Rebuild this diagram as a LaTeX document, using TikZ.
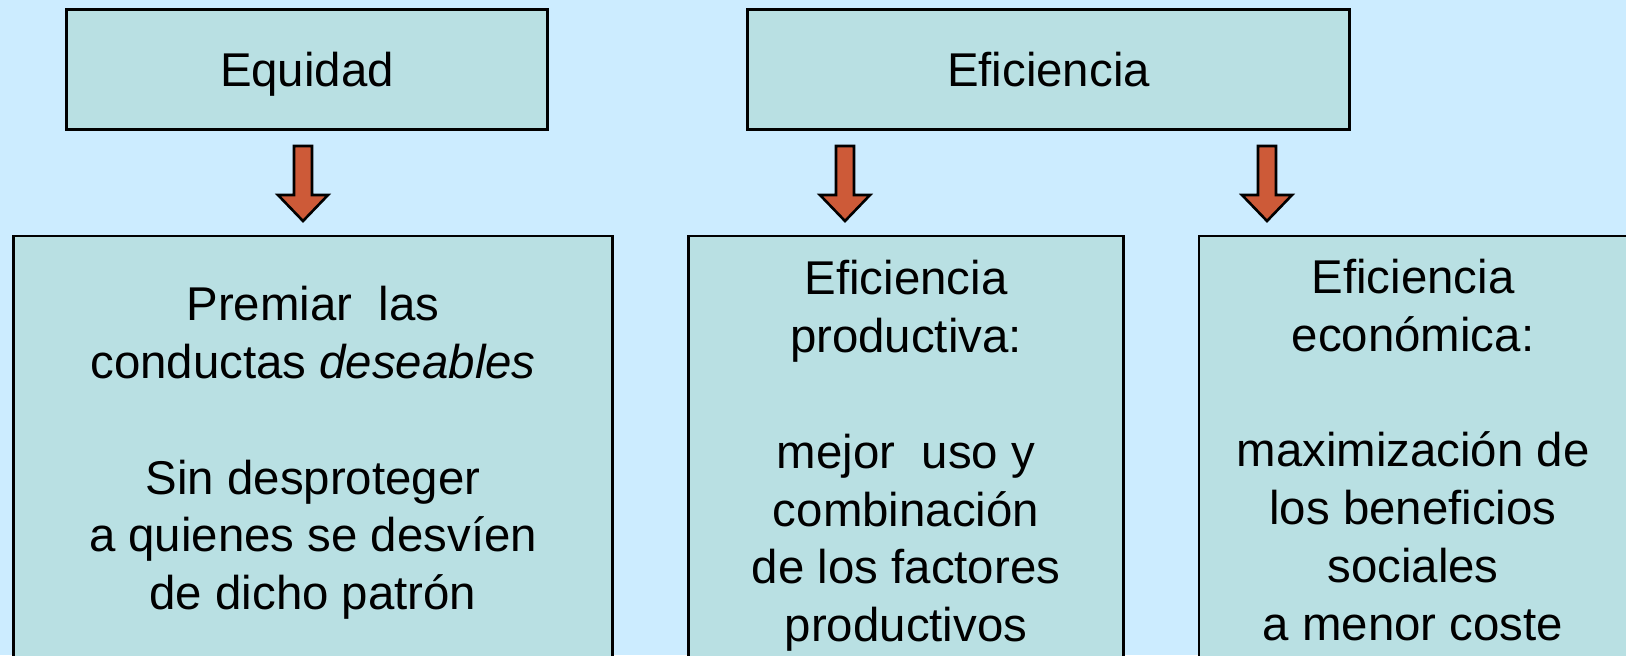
\documentclass[tikz,border=0pt]{standalone}
\usepackage{fontspec}
\setmainfont{Liberation Sans}
\usetikzlibrary{positioning}

\definecolor{bgblue}{RGB}{204,236,255}
\definecolor{boxfill}{RGB}{185,224,227}
\definecolor{arrowfill}{RGB}{205,90,56}

\begin{document}
\begin{tikzpicture}[x=0.5pt, y=-0.5pt, line width=1.3pt,
        every node/.style={font=\fontsize{23.7}{28.9}\selectfont, align=center},
        box/.style={draw, fill=boxfill, inner sep=0pt},
        blockarrow/.style={draw, fill=arrowfill, line join=miter}]
        % Background
        \useasboundingbox (0,0) rectangle (1626,655);
        \fill[bgblue] (0,0) rectangle (1626,655);
        \clip (0,0) rectangle (1626,655);

        % Top boxes
        \node[box, text depth=0pt, minimum width=240.5pt, minimum height=60pt] (equidad) at (307,69.5) {Equidad};
        \node[box, text depth=0pt, minimum width=300.75pt, minimum height=60pt] (eficiencia) at (1048.5,69.5) {Eficiencia};

        % Block arrows
        \coordinate (a1) at (303,146);
        \coordinate (a2) at (845,146);
        \coordinate (a3) at (1267,146);
        \foreach \a in {a1,a2,a3}
            \draw[blockarrow] (\a) ++(-9,0) -- ++(18,0) -- ++(0,49) -- ++(16,0)
                -- ++(-25,26) -- ++(-25,-26) -- ++(16,0) -- cycle;

        % Bottom boxes
        \node[box, minimum width=299.75pt, minimum height=217pt] (premiar) at (313,453)
            {Premiar\ \ las\\ conductas \textit{deseables}\\[28.9pt] Sin desproteger\\ a quienes se desvíen\\ de dicho patrón};
        \node[box, minimum width=217.25pt, minimum height=220pt] (productiva) at (906,456)
            {Eficiencia\\ productiva:\\[28.9pt] mejor\ \ uso y\\ combinación\\ de los factores\\ productivos};
        \node[box, minimum width=214pt, minimum height=214pt] (economica) at (1413,450)
            {Eficiencia\\ económica:\\[28.9pt] maximización de\\ los beneficios\\ sociales\\ a menor coste};
    \end{tikzpicture}
\end{document}
